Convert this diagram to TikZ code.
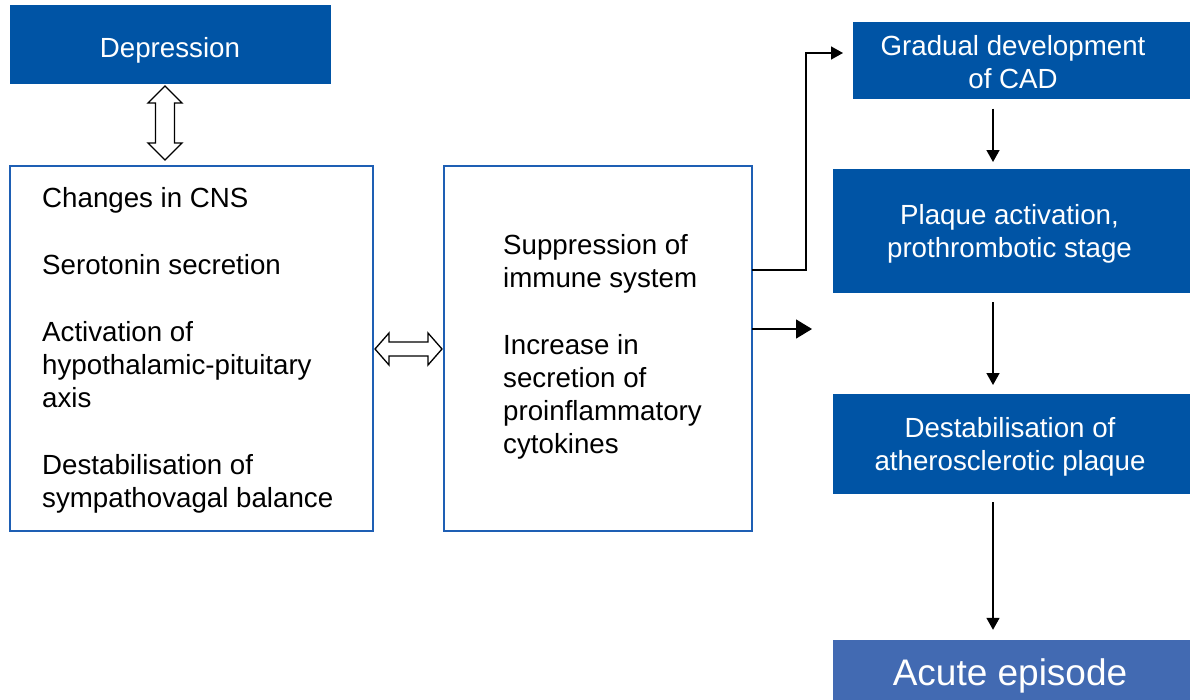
\documentclass[tikz,border=0pt]{standalone}
\usepackage{fontspec}
\setmainfont{Liberation Sans}
\usetikzlibrary{arrows.meta,calc}
\definecolor{dblue}{RGB}{0,84,165}
\definecolor{ablue}{RGB}{66,106,178}
\definecolor{bblue}{RGB}{30,95,180}
\tikzset{
  darkbox/.style={fill=dblue, draw=none, inner sep=0pt, outer sep=0pt, anchor=center},
  whitebox/.style={draw=bblue, line width=2pt, fill=white, inner sep=0pt, outer sep=0pt},
  wtext/.style={text=white, align=center, inner sep=0pt, font=\fontsize{27.7}{33}\selectfont},
  btext/.style={text=black, align=left, inner sep=0pt, anchor=west, font=\fontsize{27.7}{33}\selectfont},
  arr/.style={line width=1.5pt, draw=black, -{Triangle[length=12pt,width=13pt]}},
  hollow/.style={draw=black, line width=1.3pt, fill=white, line join=miter}
}
\begin{document}
\begin{tikzpicture}[x=1pt,y=-1pt]
\useasboundingbox (0,0) rectangle (1190,699);
% boxes
\node[darkbox, minimum width=321, minimum height=79] (dep) at (170.5,44.5) {};
\node[wtext] (deptxt) at (170,50) {Depression};
\node[whitebox, minimum width=363, minimum height=365] (left) at (191.5,348.5) {};
\node[btext] (lefttxt) at (42,350) {Changes in CNS\\[34pt]Serotonin secretion\\[34pt]Activation of\\hypothalamic-pituitary\\axis\\[34pt]Destabilisation of\\sympathovagal balance};
\node[whitebox, minimum width=308, minimum height=365] (mid) at (598,348.5) {};
\node[btext] (midtxt) at (503,346.5) {Suppression of\\immune system\\[34pt]Increase in\\secretion of\\proinflammatory\\cytokines};
\node[darkbox, minimum width=340, minimum height=76.5] (grad) at (1023,60.25) {};
\node[wtext] (gradtxt) at (1013,62) {Gradual development\\of CAD};
\node[darkbox, minimum width=360, minimum height=124] (plq) at (1013,231) {};
\node[wtext] (plqtxt) at (1009.5,234) {Plaque activation,\\prothrombotic stage};
\node[darkbox, minimum width=360, minimum height=100] (dst) at (1013,444) {};
\node[wtext] (dsttxt) at (1010,447) {Destabilisation of\\atherosclerotic plaque};
\node[fill=ablue, draw=none, inner sep=0pt, minimum width=360, minimum height=62] (acu) at (1013,671) {};
\node[wtext, font=\fontsize{37}{40}\selectfont] (acutxt) at (1010,676) {Acute episode};
% hollow double arrows
\draw[hollow] (165,86) -- (182,103) -- (174.5,103) -- (174.5,143) -- (182,143) -- (165,160)
  -- (148,143) -- (155.5,143) -- (155.5,103) -- (148,103) -- cycle;
\draw[hollow] (375,349) -- (389,333) -- (389,342) -- (428,342) -- (428,333) -- (442,349)
  -- (428,365) -- (428,356) -- (389,356) -- (389,365) -- cycle;
% connectors
\coordinate (bend) at (806,270);
\coordinate (gin) at (843,53);
\coordinate (free) at (812,329);
\coordinate (ax) at (993,0);
\draw[line width=1.5pt, -{Triangle[length=12pt,width=13pt]}] (mid.east |- bend) -- (bend) |- (gin);
\draw[line width=1.5pt, -{Triangle[length=16pt,width=19pt]}] (mid.east |- free) -- (free);
\draw[arr, shorten <=10pt, shorten >=7pt] (grad.south -| ax) -- (plq.north -| ax);
\draw[arr, shorten <=9pt, shorten >=9pt] (plq.south -| ax) -- (dst.north -| ax);
\draw[arr, shorten <=8pt, shorten >=10pt] (dst.south -| ax) -- (acu.north -| ax);
\end{tikzpicture}
\end{document}
